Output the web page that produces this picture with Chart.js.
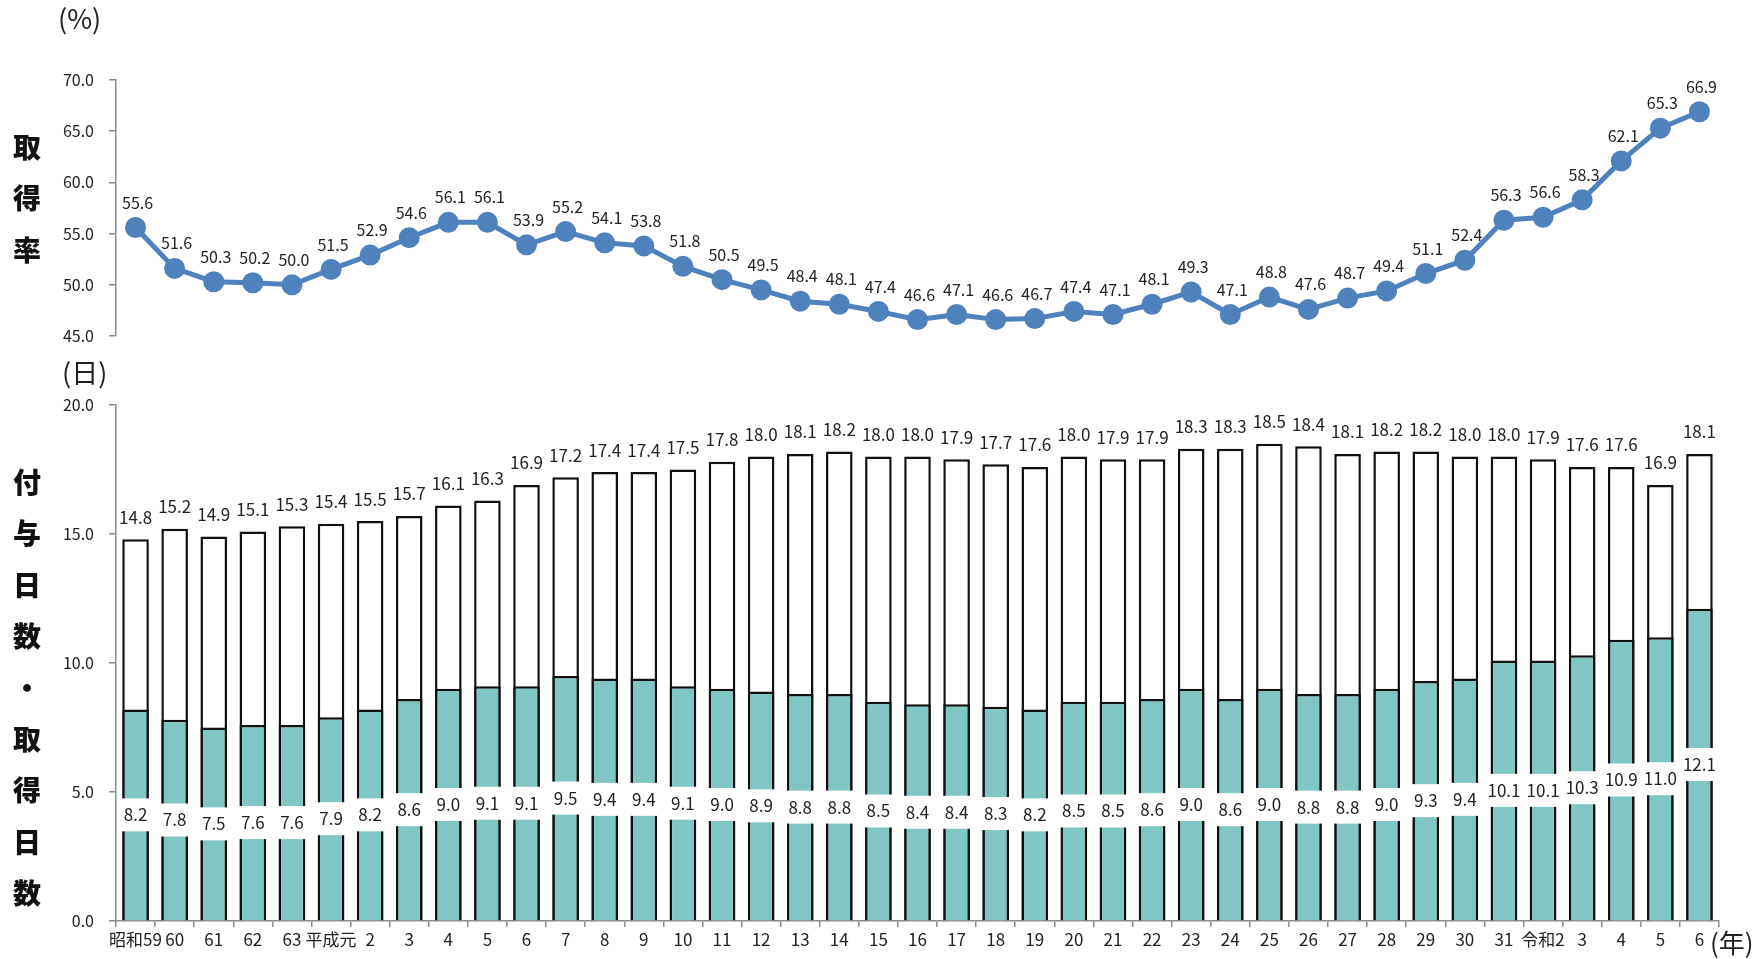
<!DOCTYPE html>
<html lang="ja">
<head>
<meta charset="UTF-8">
<title>年次有給休暇の取得状況</title>
<script src="https://cdn.jsdelivr.net/npm/chart.js"></script>
<style>
    body { margin: 0; background: #fff; }
    #wrap { position: relative; width: 1756px; height: 959px; font-family: "Noto Sans CJK JP", "Noto Sans", sans-serif; color: #222; }
    #wrap canvas { position: absolute; left: 0; top: 0; }
    .vlabel { position: absolute; left: 11px; width: 32px; font-size: 28px; font-weight: 900; line-height: 51.4px; text-align: center; color: #111; }
    .unit { position: absolute; font-size: 27px; color: #222; white-space: nowrap; }
</style>
</head>
<body>
<div id="wrap">
    <canvas id="rateChart" width="1756" height="959"></canvas>
    <canvas id="daysChart" width="1756" height="959"></canvas>
    <div class="unit" style="left:58px; top:-2px;">(%)</div>
    <div class="unit" style="left:62px; top:352px;">(日)</div>
    <div class="unit" style="left:1710px; top:923px; font-size:26px;">(年)</div>
    <div class="vlabel" style="top:121px;">取<br>得<br>率</div>
    <div class="vlabel" style="top:456px;">付<br>与<br>日<br>数<br>・<br>取<br>得<br>日<br>数</div>
</div>

<script>
// 年（昭和59年〜令和6年）
const years = ['昭和59', '60', '61', '62', '63', '平成元', '2', '3', '4', '5', '6', '7', '8', '9', '10',
    '11', '12', '13', '14', '15', '16', '17', '18', '19', '20', '21', '22', '23', '24', '25', '26',
    '27', '28', '29', '30', '31', '令和2', '3', '4', '5', '6'];

// 取得率 (%)
const rate = [55.6, 51.6, 50.3, 50.2, 50.0, 51.5, 52.9, 54.6, 56.1, 56.1, 53.9, 55.2, 54.1, 53.8, 51.8,
    50.5, 49.5, 48.4, 48.1, 47.4, 46.6, 47.1, 46.6, 46.7, 47.4, 47.1, 48.1, 49.3, 47.1, 48.8, 47.6,
    48.7, 49.4, 51.1, 52.4, 56.3, 56.6, 58.3, 62.1, 65.3, 66.9];

// 付与日数 (日)
const granted = [14.8, 15.2, 14.9, 15.1, 15.3, 15.4, 15.5, 15.7, 16.1, 16.3, 16.9, 17.2, 17.4, 17.4, 17.5,
    17.8, 18.0, 18.1, 18.2, 18.0, 18.0, 17.9, 17.7, 17.6, 18.0, 17.9, 17.9, 18.3, 18.3, 18.5, 18.4,
    18.1, 18.2, 18.2, 18.0, 18.0, 17.9, 17.6, 17.6, 16.9, 18.1];

// 取得日数 (日)
const taken = [8.2, 7.8, 7.5, 7.6, 7.6, 7.9, 8.2, 8.6, 9.0, 9.1, 9.1, 9.5, 9.4, 9.4, 9.1,
    9.0, 8.9, 8.8, 8.8, 8.5, 8.4, 8.4, 8.3, 8.2, 8.5, 8.5, 8.6, 9.0, 8.6, 9.0, 8.8,
    8.8, 9.0, 9.3, 9.4, 10.1, 10.1, 10.3, 10.9, 11.0, 12.1];

const rateTicks = [45, 50, 55, 60, 65, 70];
const dayTicks = [0, 5, 10, 15, 20];

const FONT = '"Noto Sans CJK JP", "Noto Sans", sans-serif';
const axisGrey = '#8c8c8c';

// y軸の幅を揃える
function fixWidth(scale) { scale.width = 116; }

const rateLabels = {
    id: 'rateLabels',
    afterDatasetsDraw(chart) {
        const ctx = chart.ctx;
        const meta = chart.getDatasetMeta(0);
        ctx.save();
        ctx.font = '16px ' + FONT;
        ctx.fillStyle = '#222';
        ctx.textAlign = 'center';
        ctx.textBaseline = 'middle';
        meta.data.forEach((pt, i) => {
            ctx.fillText(rate[i].toFixed(1), pt.x + 2, pt.y - 25);
        });
        ctx.restore();
    }
};

const dayLabels = {
    id: 'dayLabels',
    afterDatasetsDraw(chart) {
        const ctx = chart.ctx;
        ctx.save();
        ctx.font = '17px ' + FONT;
        ctx.textAlign = 'center';
        ctx.textBaseline = 'middle';
        // 付与日数: 棒の上
        chart.getDatasetMeta(1).data.forEach((bar, i) => {
            ctx.fillStyle = '#222';
            ctx.fillText(granted[i].toFixed(1), bar.x, bar.y - 22);
        });
        // 取得日数: 棒の中央、白い背景
        chart.getDatasetMeta(0).data.forEach((bar, i) => {
            const cy = (bar.y + bar.base) / 2;
            ctx.fillStyle = '#fff';
            ctx.fillRect(bar.x - 18.5, cy - 16.5, 37, 33);
            ctx.fillStyle = '#222';
            ctx.fillText(taken[i].toFixed(1), bar.x, cy);
        });
        ctx.restore();
    }
};

new Chart(document.getElementById('rateChart'), {
    type: 'line',
    data: {
        labels: years,
        datasets: [{
            data: rate,
            borderColor: '#4F81BD',
            backgroundColor: '#4F81BD',
            borderWidth: 5,
            pointRadius: 10.5,
            pointHoverRadius: 10.5,
            pointBorderWidth: 0,
            tension: 0
        }]
    },
    options: {
        responsive: false,
        animation: false,
        clip: false,
        layout: { padding: { top: 80, bottom: 623, left: 0, right: 37 } },
        plugins: { legend: { display: false }, tooltip: { enabled: false } },
        scales: {
            x: { display: false, offset: true },
            y: {
                min: 45, max: 70,
                afterFit: fixWidth,
                afterBuildTicks: s => { s.ticks = rateTicks.map(v => ({ value: v })); },
                ticks: { callback: v => v.toFixed(1), font: { size: 16, family: FONT }, color: '#222', padding: 15 },
                grid: { drawOnChartArea: false, tickLength: 7, color: axisGrey, lineWidth: 1.5 },
                border: { color: axisGrey, width: 1.5 }
            }
        }
    },
    plugins: [rateLabels]
});

new Chart(document.getElementById('daysChart'), {
    type: 'bar',
    data: {
        labels: years,
        datasets: [
            {
                label: '取得日数',
                data: taken,
                backgroundColor: '#80C6C4',
                borderColor: '#111',
                borderWidth: 2.5,
                grouped: false,
                barPercentage: 0.68,
                categoryPercentage: 1
            },
            {
                label: '付与日数',
                data: granted,
                backgroundColor: '#fff',
                borderColor: '#111',
                borderWidth: 2.5,
                grouped: false,
                barPercentage: 0.68,
                categoryPercentage: 1
            }
        ]
    },
    options: {
        responsive: false,
        animation: false,
        layout: { padding: { top: 405, bottom: 0, left: 0, right: 37 } },
        plugins: { legend: { display: false }, tooltip: { enabled: false } },
        scales: {
            x: {
                afterFit: s => { s.height = 38; },
                ticks: { font: { size: 17, family: FONT }, color: '#222', maxRotation: 0, autoSkip: false, padding: 2 },
                grid: { drawOnChartArea: false, offset: true, tickLength: 6, color: axisGrey, lineWidth: 1.5 },
                border: { color: axisGrey, width: 1.5 }
            },
            y: {
                min: 0, max: 20,
                afterFit: fixWidth,
                afterBuildTicks: s => { s.ticks = dayTicks.map(v => ({ value: v })); },
                ticks: { callback: v => v.toFixed(1), font: { size: 16, family: FONT }, color: '#222', padding: 15 },
                grid: { drawOnChartArea: false, tickLength: 7, color: axisGrey, lineWidth: 1.5 },
                border: { color: axisGrey, width: 1.5 }
            }
        }
    },
    plugins: [dayLabels]
});
</script>
</body>
</html>
